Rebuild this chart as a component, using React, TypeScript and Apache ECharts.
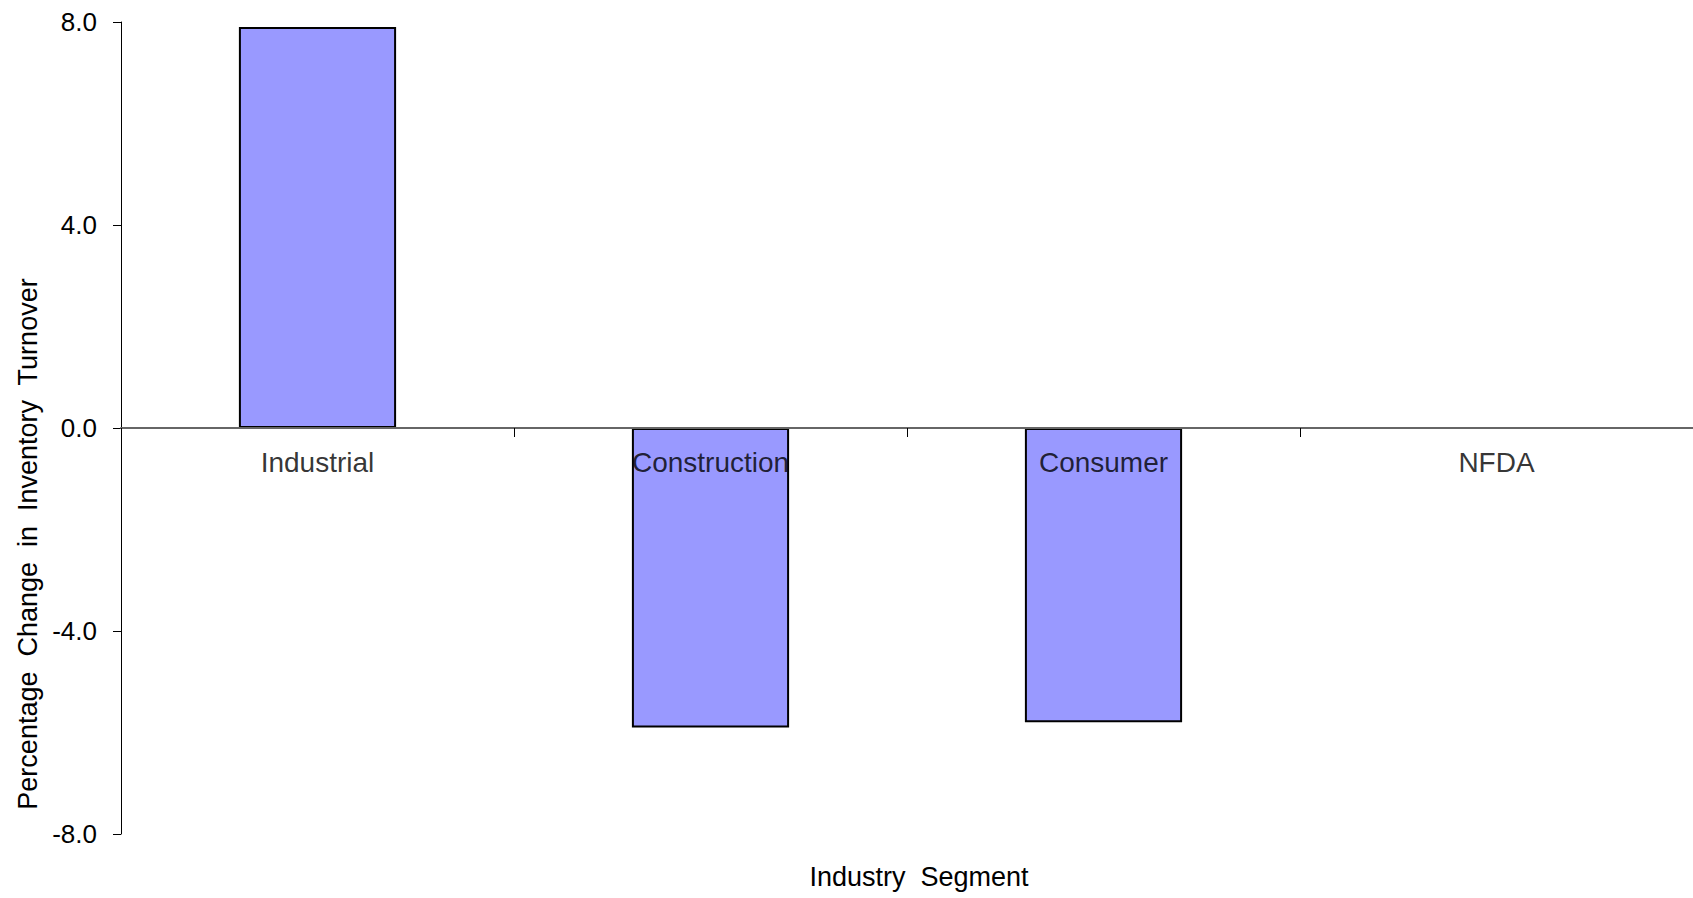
import React, { useEffect, useRef } from "react";
import * as echarts from "echarts";

const categories = ["Industrial", "Construction", "Consumer", "NFDA"];
const values = [7.9, -5.9, -5.8, 0];
const yMin = -8;
const yMax = 8;
const yInterval = 4;
const xTitle = "Industry  Segment";
const yTitle = "Percentage  Change  in  Inventory  Turnover";

export default function App() {
  const ref = useRef<HTMLDivElement>(null);
  useEffect(() => {
    if (!ref.current) return;
    const chart = echarts.init(ref.current, undefined, { renderer: "svg" });
    const font = "'Liberation Sans', Arial, sans-serif";
    chart.setOption({
      animation: false,
      backgroundColor: "#ffffff",
      textStyle: { fontFamily: font },
      grid: { left: 121, right: 0, top: 22, bottom: 64, containLabel: false },
      xAxis: {
        type: "category",
        data: categories,
        z: 5,
        axisLine: { onZero: true, lineStyle: { color: "#666666", width: 2 } },
        axisTick: { show: true, length: 9, lineStyle: { color: "#000000", width: 1 } },
        axisLabel: { show: false },
        splitLine: { show: false },
      },
      yAxis: {
        type: "value",
        min: yMin,
        max: yMax,
        interval: yInterval,
        axisLine: { show: true, lineStyle: { color: "#000000", width: 1 } },
        axisTick: { show: true, length: 8, lineStyle: { color: "#000000" } },
        axisLabel: {
          color: "#000000",
          fontSize: 26,
          margin: 24,
          fontFamily: font,
          formatter: (v: number) => v.toFixed(1),
        },
        splitLine: { show: false },
      },
      series: [
        {
          type: "bar",
          data: values,
          barWidth: "40%",
          itemStyle: { color: "#9999FF", borderColor: "#000000", borderWidth: 2 },
        },
        {
          type: "scatter",
          data: categories.map((c) => [c, 0]),
          symbolSize: 0,
          z: 10,
          silent: true,
          label: {
            show: true,
            position: "bottom",
            distance: 20,
            formatter: (p: any) => p.name || p.value[0],
            color: "#000000",
            fontSize: 28,
            fontFamily: font,
          },
        },
      ],
      graphic: [
        {
          type: "text",
          x: 919,
          y: 877,
          style: {
            text: xTitle,
            fontSize: 27,
            fontFamily: font,
            fill: "#000000",
            textAlign: "center",
            textVerticalAlign: "middle",
          },
        },
        {
          type: "text",
          x: 28,
          y: 544,
          rotation: Math.PI / 2,
          style: {
            text: yTitle,
            fontSize: 27,
            fontFamily: font,
            fill: "#000000",
            textAlign: "center",
            textVerticalAlign: "middle",
          },
        },
      ],
    });
    return () => chart.dispose();
  }, []);
  return (
    <div
      ref={ref}
      style={{ position: "fixed", left: 0, top: 0, width: 1693, height: 898, background: "#fff" }}
    />
  );
}
